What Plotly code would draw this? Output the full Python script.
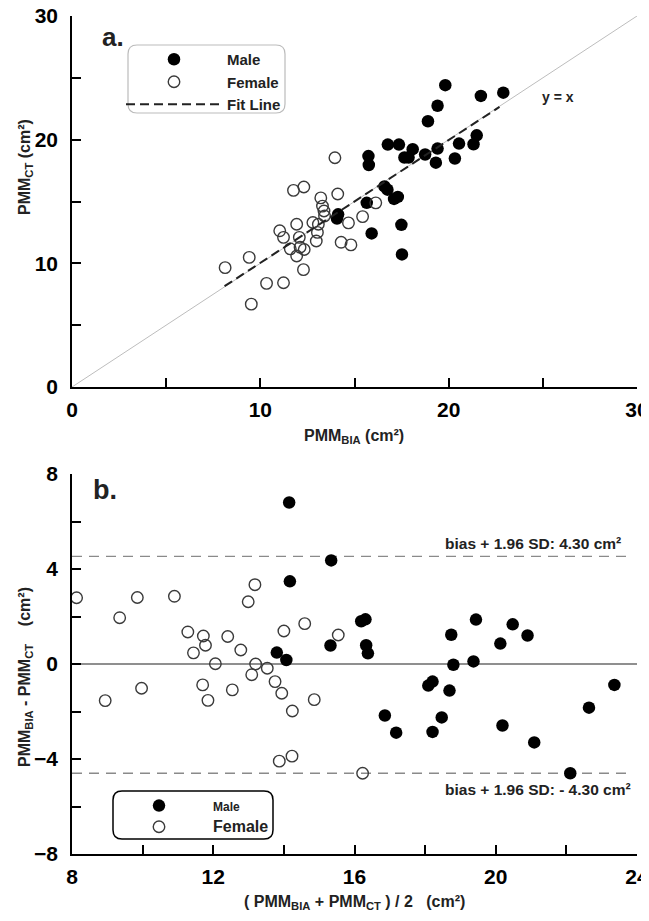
import plotly.graph_objects as go

# ---------------- data: panel a (PMM_BIA vs PMM_CT) ----------------
male_bia = [19.82, 21.71, 22.90, 19.41, 18.90, 16.77, 17.36, 18.09, 19.41, 20.55,
            21.49, 21.32, 15.74, 15.76, 17.65, 17.87, 18.75, 19.32, 20.33, 16.59,
            16.75, 17.10, 17.30, 15.65, 14.13, 14.07, 15.91, 17.49, 17.52]
male_ct = [24.41, 23.54, 23.80, 22.74, 21.49, 19.60, 19.60, 19.23, 19.28, 19.68,
           20.35, 19.63, 18.67, 17.95, 18.56, 18.56, 18.80, 18.14, 18.48, 16.22,
           15.96, 15.21, 15.37, 14.89, 13.96, 13.62, 12.42, 13.11, 10.72]
female_bia = [13.96, 11.76, 12.31, 13.21, 14.11, 16.13, 13.30, 13.38, 13.41, 15.43,
              12.79, 13.08, 14.68, 11.93, 11.03, 11.23, 13.03, 12.97, 12.07, 14.29,
              14.81, 11.59, 12.11, 12.33, 11.93, 9.41, 8.13, 12.29, 10.33, 11.23, 9.52]
female_ct = [18.54, 15.90, 16.17, 15.29, 15.61, 14.89, 14.63, 14.23, 13.83, 13.78,
             13.30, 13.16, 13.27, 13.16, 12.63, 12.10, 12.50, 11.81, 12.10, 11.70,
             11.49, 11.17, 11.30, 11.12, 10.59, 10.48, 9.65, 9.49, 8.38, 8.43, 6.70]
fit_x = [8.1, 22.7]
fit_y = [8.15, 22.65]
identity = [0, 30]

# ---------------- data: panel b (Bland-Altman) ----------------
male_mean = [14.15, 15.34, 14.17, 13.80, 14.07, 15.32, 16.19, 16.31, 16.33, 16.38,
             19.44, 20.48, 20.90, 20.13, 18.74, 18.80, 19.37, 18.09, 18.21, 18.69,
             18.47, 18.21, 16.86, 17.18, 20.19, 21.09, 22.11, 22.64, 23.36]
male_diff = [6.80, 4.36, 3.48, 0.48, 0.17, 0.78, 1.80, 1.88, 0.79, 0.45,
             1.87, 1.67, 1.20, 0.86, 1.23, -0.03, 0.11, -0.91, -0.74, -1.12,
             -2.25, -2.86, -2.17, -2.89, -2.59, -3.30, -4.60, -1.84, -0.88]
female_mean = [8.13, 9.35, 9.85, 10.90, 13.18, 12.99, 14.59, 14.00, 15.54, 11.28,
               11.72, 12.41, 11.44, 11.78, 12.78, 12.06, 13.20, 13.53, 13.09, 13.75,
               13.94, 11.70, 9.97, 12.54, 8.94, 11.85, 14.86, 14.24, 13.87, 14.23, 16.23]
female_diff = [2.79, 1.95, 2.80, 2.85, 3.34, 2.62, 1.70, 1.39, 1.22, 1.35,
               1.18, 1.16, 0.47, 0.79, 0.59, 0.01, 0.00, -0.18, -0.45, -0.74,
               -1.23, -0.88, -1.02, -1.09, -1.54, -1.53, -1.50, -1.98, -4.09, -3.88, -4.60]
limit_x = [8, 23.75]
zero_x = [8, 24.05]
upper_limit = 4.53
lower_limit = -4.60
bias_level = 0.0

# ---------------- layout geometry ----------------
# The page body has an 8px margin, so the figure is drawn 8px smaller and all
# target pixel positions (measured on the 649x921 picture) are shifted by OFF.
OFF = 8
W, H = 649 - OFF, 921 - OFF
# target picture pixels: plot left 72, right 637, top 16, bottom 854
L_T, R_T, T_T, B_T = 72, 637, 16, 854
ML, MR, MT, MB = L_T - OFF, W - (R_T - OFF), T_T - OFF, H - (B_T - OFF)
PW = W - ML - MR
PH = H - MT - MB


def px_x(px):
    return (px - OFF - ML) / PW


def px_y(py):
    return (H - MB - (py - OFF)) / PH


def rounded_box(x0, y0, x1, y1, r):
    X = lambda v: f"{px_x(v):.5f}"
    Y = lambda v: f"{px_y(v):.5f}"
    return (f"M {X(x0 + r)},{Y(y0)} L {X(x1 - r)},{Y(y0)} Q {X(x1)},{Y(y0)} {X(x1)},{Y(y0 + r)} "
            f"L {X(x1)},{Y(y1 - r)} Q {X(x1)},{Y(y1)} {X(x1 - r)},{Y(y1)} "
            f"L {X(x0 + r)},{Y(y1)} Q {X(x0)},{Y(y1)} {X(x0)},{Y(y1 - r)} "
            f"L {X(x0)},{Y(y0 + r)} Q {X(x0)},{Y(y0)} {X(x0 + r)},{Y(y0)} Z")


FONT = "Liberation Sans, Arial, sans-serif"
MS_F = 12.5
MS_O = 11.5

fig = go.Figure()

# panel a
fig.add_trace(go.Scatter(x=identity, y=identity, mode="lines", line=dict(color="#bdbdbd", width=1),
                         showlegend=False, xaxis="x", yaxis="y", hoverinfo="skip"))
fig.add_trace(go.Scatter(x=male_bia, y=male_ct, mode="markers", name="Male",
                         marker=dict(symbol="circle", color="black", size=MS_F),
                         cliponaxis=False, xaxis="x", yaxis="y", legend="legend", legendgroup="m"))
fig.add_trace(go.Scatter(x=female_bia, y=female_ct, mode="markers", name="Female",
                         marker=dict(symbol="circle-open", color="#3a3a3a", size=MS_O, line=dict(width=1.4)),
                         cliponaxis=False, xaxis="x", yaxis="y", legend="legend", legendgroup="f"))
fig.add_trace(go.Scatter(x=fit_x, y=fit_y, mode="lines", name="Fit Line",
                         line=dict(color="#222", width=2, dash="9px,5px"),
                         xaxis="x", yaxis="y", legend="legend", legendgroup="l"))

# panel b
fig.add_trace(go.Scatter(x=limit_x, y=[upper_limit, upper_limit], mode="lines",
                         line=dict(color="#8a8a8a", width=1.3, dash="10px,7px"),
                         showlegend=False, xaxis="x2", yaxis="y2", hoverinfo="skip"))
fig.add_trace(go.Scatter(x=limit_x, y=[lower_limit, lower_limit], mode="lines",
                         line=dict(color="#8a8a8a", width=1.3, dash="10px,7px"),
                         showlegend=False, xaxis="x2", yaxis="y2", hoverinfo="skip"))
fig.add_trace(go.Scatter(x=zero_x, y=[bias_level, bias_level], mode="lines",
                         line=dict(color="#6a6a6a", width=1.3),
                         showlegend=False, xaxis="x2", yaxis="y2", hoverinfo="skip"))
fig.add_trace(go.Scatter(x=male_mean, y=male_diff, mode="markers",
                         name='<span style="font-size:12px">Male</span>',
                         marker=dict(symbol="circle", color="black", size=MS_F),
                         cliponaxis=False, xaxis="x2", yaxis="y2", legend="legend2", legendgroup="m2"))
fig.add_trace(go.Scatter(x=female_mean, y=female_diff, mode="markers",
                         name='<span style="font-size:16px">Female</span>',
                         marker=dict(symbol="circle-open", color="#3a3a3a", size=MS_O, line=dict(width=1.4)),
                         cliponaxis=False, xaxis="x2", yaxis="y2", legend="legend2", legendgroup="f2"))

tickfont = dict(family=FONT, size=21, color="black", weight="bold")
axis_common = dict(showgrid=False, zeroline=False, showline=True, linecolor="black", linewidth=1.6,
                   ticks="inside", ticklen=9, tickwidth=1.5, tickcolor="black", tickfont=tickfont,
                   mirror=False, automargin=False, ticklabeloverflow="allow")

dom_a = [px_y(387), 1.0]
dom_b = [0.0, px_y(474)]

fig.update_layout(
    width=W, height=H,
    margin=dict(l=ML, r=MR, t=MT, b=MB, pad=0),
    paper_bgcolor="white", plot_bgcolor="white",
    font=dict(family=FONT, color="black"),
    xaxis=dict(axis_common, domain=[0, 1], range=[0, 30], tickvals=[0, 10, 20, 30],
               minor=dict(dtick=5, tick0=0, ticks="inside", ticklen=9, tickwidth=1.5, tickcolor="black"),
               anchor="y", ticklabelstandoff=3),
    yaxis=dict(axis_common, domain=dom_a, range=[0, 30], tickvals=[0, 10, 20, 30],
               minor=dict(dtick=5, tick0=0, ticks="inside", ticklen=9, tickwidth=1.5, tickcolor="black"),
               anchor="x", ticklabelstandoff=8),
    xaxis2=dict(axis_common, domain=[0, 1], range=[8, 24], tickvals=[8, 12, 16, 20, 24],
                minor=dict(dtick=2, tick0=0, ticks="inside", ticklen=9, tickwidth=1.5, tickcolor="black"),
                anchor="y2", ticklabelstandoff=3),
    yaxis2=dict(axis_common, domain=dom_b, range=[-8, 8], tickvals=[-8, -4, 0, 4, 8],
                minor=dict(dtick=2, tick0=0, ticks="inside", ticklen=9, tickwidth=1.5, tickcolor="black"),
                anchor="x2", ticklabelstandoff=8),
    legend=dict(x=px_x(121), y=px_y(43), xanchor="left", yanchor="top", bgcolor="rgba(0,0,0,0)",
                borderwidth=0, itemwidth=96, font=dict(family=FONT, size=15, color="#222", weight="bold"),
                traceorder="normal", tracegroupgap=0),
    legend2=dict(x=px_x(105), y=px_y(790), xanchor="left", yanchor="top", bgcolor="rgba(0,0,0,0)",
                 borderwidth=0, itemwidth=98, font=dict(family=FONT, size=14, color="#222", weight="bold"),
                 traceorder="normal", tracegroupgap=0),
    shapes=[
        dict(type="path", xref="paper", yref="paper", path=rounded_box(128, 45, 285, 113, 9),
             line=dict(color="#bbbbbb", width=1.2), fillcolor="rgba(0,0,0,0)", layer="below"),
        dict(type="path", xref="paper", yref="paper", path=rounded_box(113, 791, 273, 839, 9),
             line=dict(color="black", width=1.5), fillcolor="rgba(0,0,0,0)", layer="below"),
    ],
)

txt = lambda s: dict(family=FONT, size=s, color="#222", weight="bold")
C = dict(xanchor="center", yanchor="middle", showarrow=False)
R = dict(xanchor="right", yanchor="middle", showarrow=False)
annotations = [
    dict(C, text="a.", x=2.18, y=28.3, xref="x", yref="y", font=txt(26)),
    dict(C, text="y = x", x=25.8, y=23.46, xref="x", yref="y", font=txt(14)),
    dict(C, text="b.", x=8.93, y=7.33, xref="x2", yref="y2", font=txt(27)),
    dict(R, text="bias + 1.96 SD: 4.30 cm²", x=23.59, y=5.07, xref="x2", yref="y2", font=txt(15.5)),
    dict(R, text="bias: 0.0 cm²", x=24.08, y=0.33, xref="x2", yref="y2", font=txt(15.5)),
    dict(R, text="bias + 1.96 SD: - 4.30 cm²", x=23.88, y=-5.3, xref="x2", yref="y2", font=txt(15.5)),
    # axis titles
    dict(C, text="PMM<sub>BIA</sub> (cm²)", x=px_x(354), y=px_y(437), xref="paper", yref="paper",
         font=txt(16)),
    dict(C, text="PMM<sub>CT</sub> (cm²)", x=px_x(25), y=px_y(167), xref="paper", yref="paper",
         textangle=-90, font=txt(16)),
    dict(C, text="( PMM<sub>BIA</sub> + PMM<sub>CT</sub> ) / 2   (cm²)", x=px_x(354), y=px_y(902),
         xref="paper", yref="paper", font=txt(16)),
    dict(C, text="PMM<sub>BIA</sub> - PMM<sub>CT</sub>    (cm²)", x=px_x(25), y=px_y(677),
         xref="paper", yref="paper", textangle=-90, font=txt(16)),
]
fig.update_layout(annotations=annotations)

fig.write_html("out.html")
